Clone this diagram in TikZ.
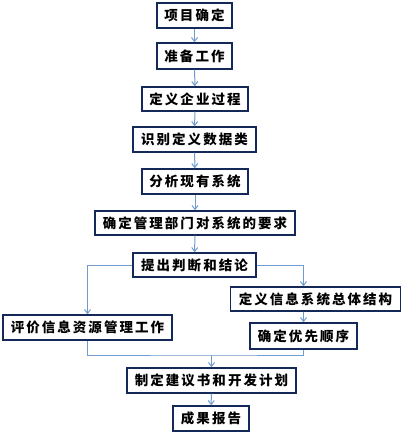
\documentclass[tikz,border=0pt]{standalone}
\usepackage{fontspec}
\newfontfamily\cjk{Noto Sans CJK SC}[LetterSpace=15]
\usetikzlibrary{arrows.meta}
\definecolor{boxcol}{HTML}{14295A}
\definecolor{linecol}{HTML}{6F9BD0}
\tikzset{
  stepbox/.style={draw=boxcol, line width=1.4pt, fill=white, inner sep=0pt,
    font=\cjk\bfseries\fontsize{13.5}{14}\selectfont, text=black},
  link/.style={draw=linecol, line width=1pt},
  arr/.style={link, -{Straight Barb[length=4pt,width=6pt]}},
}
\begin{document}
\begin{tikzpicture}[x=1pt,y=-1pt]
\useasboundingbox[fill=white] (0,0) rectangle (403,434);
\node[stepbox, minimum width=75pt, minimum height=25pt] (b1) at (194.5,15.5) {项目确定};
\node[stepbox, minimum width=75pt, minimum height=26pt] (b2) at (194.5,56) {准备工作};
\node[stepbox, minimum width=106pt, minimum height=24pt] (b3) at (195,99) {定义企业过程};
\node[stepbox, minimum width=123pt, minimum height=25pt] (b4) at (194.5,139.5) {识别定义数据类};
\node[stepbox, minimum width=106pt, minimum height=25pt] (b5) at (195,181.5) {分析现有系统};
\node[stepbox, minimum width=200pt, minimum height=24pt] (b6) at (195,223) {确定管理部门对系统的要求};
\node[stepbox, minimum width=123pt, minimum height=24pt] (b7) at (194.5,265) {提出判断和结论};
\node[stepbox, minimum width=170pt, minimum height=24pt] (b8) at (315.5,299) {定义信息系统总体结构};
\node[stepbox, minimum width=169pt, minimum height=25pt] (b9) at (87.5,327.5) {评价信息资源管理工作};
\node[stepbox, minimum width=107pt, minimum height=26pt] (b10) at (303.5,336) {确定优先顺序};
\node[stepbox, minimum width=169pt, minimum height=25pt] (b11) at (211.5,380.5) {制定建议书和开发计划};
\node[stepbox, minimum width=76pt, minimum height=25pt] (b12) at (211,418.5) {成果报告};
\coordinate (m) at (211.5,355);
\draw[arr] (b1) -- (b2);
\draw[arr] (b2) -- (b3);
\draw[arr] (b3) -- (b4);
\draw[arr] (b4) -- (b5);
\draw[arr] (b5) -- (b6);
\draw[arr] (b6) -- (b7);
\draw[arr] (b7.west) -| (b9.north);
\draw[arr] (b7.east) -| (b8.north -| b10.north);
\draw[arr] (b8.south -| b10.north) -- (b10.north);
\draw[link] (b9.south) |- (m) -| (b10.south);
\draw[arr] (m) -- (b11.north);
\draw[arr] (b11) -- (b12);
\end{tikzpicture}
\end{document}
